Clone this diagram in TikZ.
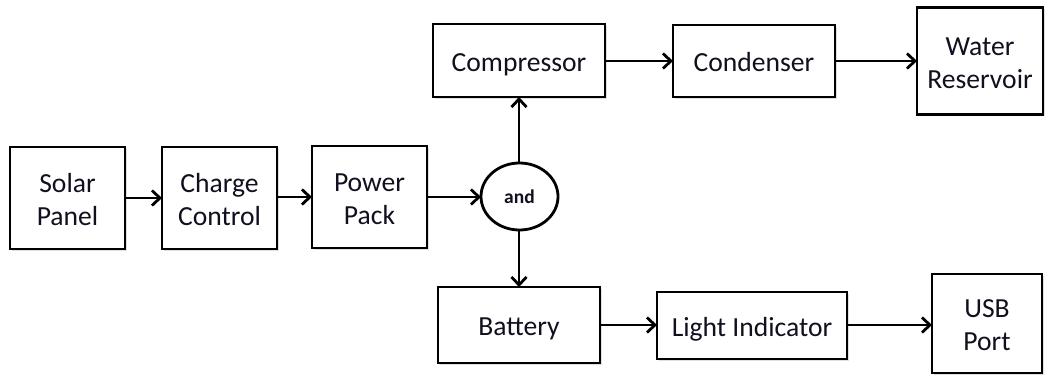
\documentclass[tikz,border=0pt]{standalone}
\usepackage{fontspec}
\setmainfont{Carlito}
\usetikzlibrary{arrows.meta,shapes.geometric,shadows}
\definecolor{txt}{RGB}{16,16,30}
\newcommand{\oneline}[1]{\raisebox{-10.5pt}[0pt][0pt]{#1}}
\newcommand{\twoline}[2]{\raisebox{-27pt}[0pt][0pt]{\begin{tabular}[b]{@{}c@{}}#1\\#2\end{tabular}}}
\begin{document}
\begin{tikzpicture}[x=1pt,y=-1pt,
  blk/.style={draw=black,line width=2.8pt,fill=white,inner sep=0pt,outer sep=0pt,
    text height=0pt,text depth=0pt,text=txt,font=\fontsize{27.6}{33}\selectfont,
    drop shadow={shadow xshift=1.5pt,shadow yshift=-1.5pt,opacity=0.25}},
  andnode/.style={draw=black,line width=2.8pt,fill=white,ellipse,inner sep=0pt,outer sep=0pt,
    text height=0pt,text depth=0pt,
    minimum width=77pt,minimum height=67pt,text=txt,font=\bfseries\fontsize{19.5}{23}\selectfont},
  arr/.style={draw=black,line width=2.8pt,-{Straight Barb[length=8pt,width=15pt,line width=2.8pt]}}]
\useasboundingbox[fill=white] (0,0) rectangle (1048,375);
\node[blk,minimum width=115pt,minimum height=102pt] (solar) at (67.5,198) {\twoline{Solar}{Panel}};
\node[blk,minimum width=115pt,minimum height=102pt] (charge) at (219.5,198) {\twoline{Charge}{Control}};
\node[blk,minimum width=115pt,minimum height=102pt] (power) at (369.5,197) {\twoline{Power}{Pack}};
\node[andnode] (and) at (519.5,196.5) {\raisebox{-6.5pt}[0pt][0pt]{and}};
\node[blk,minimum width=172pt,minimum height=73pt] (comp) at (519,60.5) {\oneline{Compressor}};
\node[blk,minimum width=162pt,minimum height=72pt] (cond) at (754,61) {\oneline{Condenser}};
\node[blk,minimum width=126pt,minimum height=107pt] (water) at (980,61) {\twoline{Water}{Reservoir}};
\node[blk,minimum width=162pt,minimum height=76pt] (batt) at (519,325) {\oneline{Battery}};
\node[blk,minimum width=190pt,minimum height=67pt] (light) at (752,325.5) {\oneline{Light Indicator}};
\node[blk,minimum width=110pt,minimum height=99pt] (usb) at (987,323.5) {\twoline{USB}{Port}};
\draw[arr] (solar.east |- 0,198) -- (charge.west |- 0,198);
\draw[arr] (charge.east |- 0,197) -- (power.west |- 0,197);
\draw[arr] (power.east |- 0,197) -- (and.west |- 0,197);
\draw[arr] (and.north -| 519,0) -- (comp.south -| 519,0);
\draw[arr] (and.south -| 519,0) -- (batt.north -| 519,0);
\draw[arr] (comp.east |- 0,61) -- (cond.west |- 0,61);
\draw[arr] (cond.east |- 0,61) -- (water.west |- 0,61);
\draw[arr] (batt.east |- 0,325) -- (light.west |- 0,325);
\draw[arr] (light.east |- 0,325) -- (usb.west |- 0,325);
\end{tikzpicture}
\end{document}
